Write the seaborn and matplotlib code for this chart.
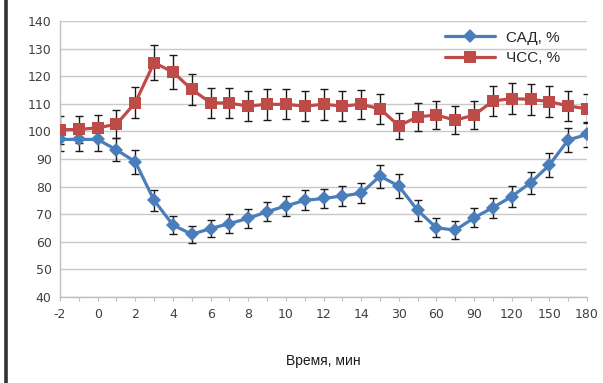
import matplotlib
matplotlib.use("Agg")
import matplotlib.pyplot as plt
from matplotlib.lines import Line2D
import seaborn as sns
import numpy as np
import pandas as pd

categories = ["-2", "-1", "0", "1", "2", "3", "4", "5", "6", "7", "8", "9", "10", "11",
              "12", "13", "14", "15", "30", "45", "60", "75", "90", "105", "120", "135",
              "150", "165", "180"]
sad = [97.1, 97.1, 97.1, 93.3, 89.0, 75.0, 66.1, 62.7, 64.8, 66.6, 68.5, 70.9, 73.0, 75.0,
       75.7, 76.6, 77.6, 83.8, 80.2, 71.4, 65.1, 64.2, 68.7, 72.4, 76.4, 81.4, 87.8, 96.9, 98.9]
sad_err = [4.2, 4.2, 4.2, 4.2, 4.3, 3.8, 3.3, 3.0, 3.2, 3.3, 3.4, 3.5, 3.5, 3.6,
           3.6, 3.6, 3.7, 4.2, 4.2, 3.7, 3.4, 3.3, 3.5, 3.6, 3.7, 4.0, 4.3, 4.4, 4.5]
chss = [100.6, 100.7, 101.3, 102.6, 110.4, 124.9, 121.5, 115.2, 110.4, 110.2, 109.2, 109.8,
        109.8, 109.2, 109.8, 109.2, 109.8, 108.2, 102.0, 105.3, 105.9, 104.1, 105.9, 111.0,
        111.9, 111.6, 110.8, 109.2, 108.2]
chss_err = [5.0, 5.0, 4.8, 5.0, 5.6, 6.3, 6.2, 5.6, 5.4, 5.5, 5.4, 5.5, 5.4, 5.5,
            5.5, 5.5, 5.3, 5.4, 4.8, 5.0, 5.0, 5.0, 5.0, 5.4, 5.6, 5.6, 5.5, 5.4, 5.2]
y_ticks = [40, 50, 60, 70, 80, 90, 100, 110, 120, 130, 140]

series_names = ["САД, %", "ЧСС, %"]
blue = "#4a7ebb"
red = "#be4b48"

pos = np.arange(len(categories))
df = pd.DataFrame({
    "pos": np.concatenate([pos, pos]),
    "value": sad + chss,
    "series": [series_names[0]] * len(pos) + [series_names[1]] * len(pos),
})

sns.set_theme(style="white")
plt.rcParams["font.family"] = ["DejaVu Sans"]

fig = plt.figure(figsize=(6.03, 3.83), dpi=100)
ax = fig.add_axes([60 / 603, 1 - 297 / 383, 527 / 603, 276 / 383])

# error bars
ax.errorbar(pos, chss, yerr=chss_err, fmt="none", ecolor="#1a1a1a", elinewidth=1.0,
            capsize=3, capthick=1.0, zorder=2)
ax.errorbar(pos, sad, yerr=sad_err, fmt="none", ecolor="#1a1a1a", elinewidth=1.0,
            capsize=3, capthick=1.0, zorder=2)

sns.lineplot(data=df, x="pos", y="value", hue="series", style="series",
             palette={series_names[0]: blue, series_names[1]: red},
             markers={series_names[0]: "D", series_names[1]: "s"},
             dashes=False, linewidth=2.3, markersize=7, markeredgewidth=0,
             ax=ax, zorder=3)
for line in ax.lines:
    if line.get_marker() == "s":
        line.set_markersize(9)

ax.set_xlim(0, len(categories) - 1)
ax.set_ylim(40, 140)
ax.set_yticks(y_ticks)
ax.set_yticklabels([str(v) for v in y_ticks])
ax.set_xticks(pos)
ax.set_xticklabels([c if i % 2 == 0 else "" for i, c in enumerate(categories)])
ax.grid(axis="y", color="#c8c8c8", linewidth=1.0)
ax.grid(axis="x", visible=False)
ax.set_axisbelow(True)
for s in ["top", "right"]:
    ax.spines[s].set_visible(False)
for s in ["left", "bottom"]:
    ax.spines[s].set_color("#bfbfbf")
    ax.spines[s].set_linewidth(1.0)
ax.tick_params(axis="x", which="both", direction="out", length=3, width=0.8,
               color="#bfbfbf", labelsize=9, labelcolor="#404040", pad=5, bottom=True)
ax.tick_params(axis="y", length=0, labelsize=9, labelcolor="#404040", pad=6)
ax.set_xlabel("Время, мин", fontsize=10, color="#1a1a1a", labelpad=24,
              family=["Liberation Sans", "DejaVu Sans"])
ax.set_ylabel("")

handles, labels = ax.get_legend_handles_labels()
leg = ax.legend(handles=handles, labels=labels, loc="upper right",
                bbox_to_anchor=(0.975, 1.015), frameon=False,
                prop={"family": ["Liberation Sans", "DejaVu Sans"], "size": 11},
                handlelength=3.3, handletextpad=0.7, labelspacing=0.45)
for h in leg.legend_handles:
    h.set_linewidth(2.3)

fig.add_artist(Line2D([5.5 / 603, 5.5 / 603], [0, 1], transform=fig.transFigure,
                      color="#333333", linewidth=2.6))

fig.savefig("out.png", dpi=100)
